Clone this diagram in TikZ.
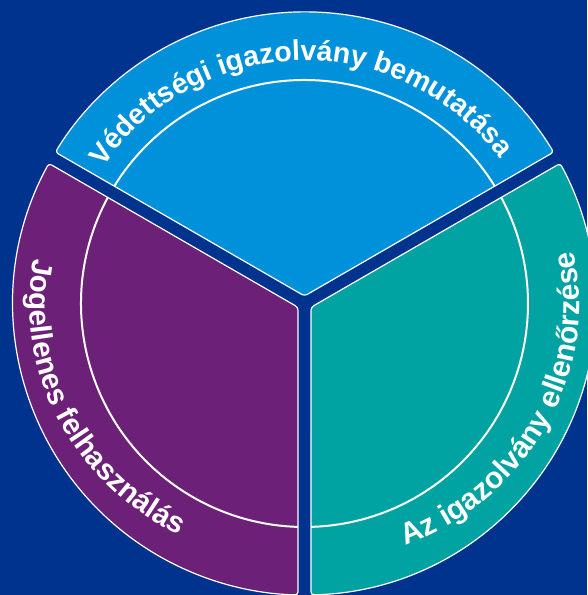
\documentclass[tikz,border=0pt]{standalone}
\usepackage{fontspec}
\setmainfont{Liberation Sans}
\usetikzlibrary{calc,decorations.text}
\definecolor{bgblue}{HTML}{00338D}
\definecolor{lightblue}{HTML}{0091DA}
\definecolor{kpurple}{HTML}{6D2077}
\definecolor{kteal}{HTML}{00A3A1}
\begin{document}
\begin{tikzpicture}[x=1pt,y=1pt,
  sector/.style={draw=white, line width=1.2pt, rounded corners=3pt},
  innerarc/.style={draw=white, line width=2pt}]
\fill[bgblue] (0,0) rectangle (587,595);
\useasboundingbox (0,0) rectangle (587,595);
\coordinate (C) at (304.5,291.5);
\foreach \a/\col in {30/lightblue,150/kpurple,270/kteal}{
  \pgfmathsetmacro\m{\a+60}
  \pgfmathsetmacro\oa{\a+1.278}
  \pgfmathsetmacro\ob{\a+118.722}
  \pgfmathsetmacro\ia{\a+1.667}
  \pgfmathsetmacro\ib{\a+118.333}
  \filldraw[sector, fill=\col] ($(C)+(\m:7.506)$) -- ($(C)+(\oa:291.5)$)
     arc[start angle=\oa, end angle=\ob, radius=291.5] -- cycle;
  \draw[innerarc] ($(C)+(\ia:223.5)$) arc[start angle=\ia, end angle=\ib, radius=223.5];
}
\path[decorate, decoration={text along path, text align=center, text color=white,
  text={|\fontsize{28.5}{28.5}\selectfont\bfseries|Védettségi igazolvány bemutatása}}]
  ($(C)+(151.2:243)$) arc[start angle=151.2, end angle=31.2, radius=243];
\path[decorate, decoration={text along path, text align=center, text color=white,
  text={|\fontsize{29.5}{29.5}\selectfont\bfseries|Jogellenes felhasználás}}]
  ($(C)+({275*cos(150)},{260*sin(150)})$) arc[start angle=150, end angle=262, x radius=275, y radius=260];
\path[decorate, decoration={text along path, text align=center, text color=white,
  text={|\fontsize{30}{30}\selectfont\bfseries|Az igazolvány ellenőrzése}}]
  ($(C)+({275*cos(-85)},{260*sin(-85)})$) arc[start angle=-85, end angle=29, x radius=275, y radius=260];
\end{tikzpicture}
\end{document}
